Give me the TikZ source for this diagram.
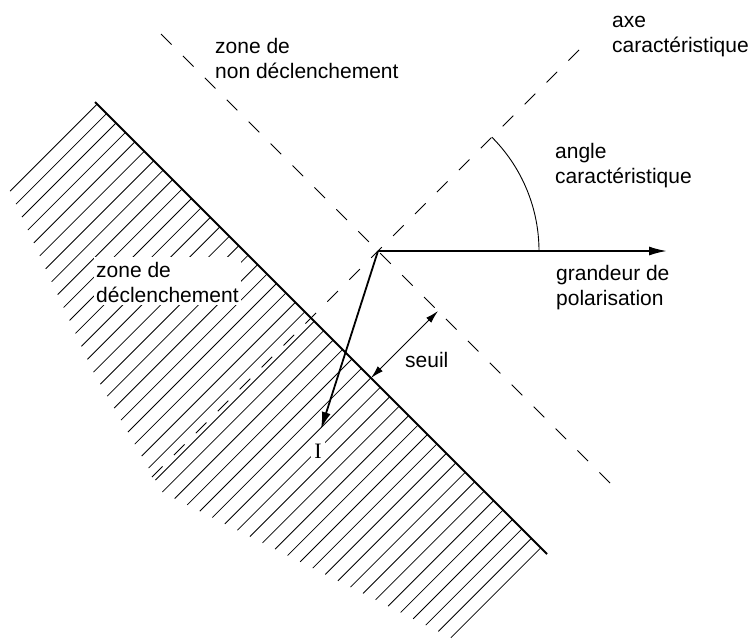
\documentclass[tikz,border=0pt]{standalone}
\usepackage{fontspec}
\setmainfont{Liberation Sans}
\newfontfamily\serifI{Liberation Serif}
\usetikzlibrary{arrows.meta}
\begin{document}
\begin{tikzpicture}[x=1pt,y=-1pt,
  txt/.style={font=\fontsize{21}{25.5}\selectfont, inner sep=0pt, anchor=north west, align=left},
  dashline/.style={line width=0.9pt, dash pattern=on 15pt off 16pt},
  hatch/.style={line width=0.8pt},
  bound/.style={line width=2.1pt},
  vec/.style={line width=1.8pt, -{Latex[length=18pt,width=9pt]}},
  thinline/.style={line width=0.9pt},
  seuilarrow/.style={line width=0.9pt, {Latex[length=13pt,width=7pt]}-{Latex[length=13pt,width=7pt]}}]
\useasboundingbox (0,0) rectangle (755,638);
% key points
\coordinate (O) at (378,251);
\coordinate (P) at (667,251);
\coordinate (Itip) at (321,429);
\coordinate (Btop) at (95,102);
\coordinate (Bbot) at (547,554);
\coordinate (Dp1) at (161,34);
\coordinate (Dp2) at (615,488);
\coordinate (Ax1) at (152,477);
\coordinate (Ax2) at (587,42);
\coordinate (S1) at (371,378);
\coordinate (S2) at (438,311);
\coordinate (A0) at (539,251);
% hatching
\foreach \k in {0,...,47}{
  \pgfmathsetmacro\t{3+13.35*\k}
  \pgfmathsetmacro\L{\t<188 ? 122+0.37*\t : (\t<324 ? 191.6+0.27*(\t-188) : 228.3-0.33*(\t-324))}
  \draw[hatch] ({95+\t/sqrt(2)},{102+\t/sqrt(2)}) -- ++({-\L/sqrt(2)},{\L/sqrt(2)});
}
% boundary of trip zone
\draw[bound] (Btop) -- (Bbot);
% dashed lines
\draw[dashline] (Dp1) -- (Dp2);
\draw[dashline] (Ax1) -- (Ax2);
% angle arc
\draw[thinline] (A0) arc[start angle=0,end angle=-45,radius=161];
% vectors
\draw[vec] (O) -- (P);
\draw[vec,-{Latex[length=17pt,width=9pt]}] (O) -- (Itip);
% threshold
\draw[seuilarrow] (S1) -- (S2);
% labels
\node[txt] (znd) at (215,35) {\strut zone de\\non déclenchement};
\node[txt] (axe) at (612,9) {\strut axe\\caractéristique};
\node[txt] (ang) at (555,140) {\strut angle\\caractéristique};
\node[txt] (pol) at (556,262) {\strut grandeur de\\polarisation};
\node[txt,fill=white,inner sep=2pt] (zd) at (94,257) {\strut zone de\\déclenchement};
\node[font=\fontsize{21}{25.5}\selectfont,inner sep=0pt,anchor=base west] (seuil) at (405,367) {seuil};
\node[font=\serifI\fontsize{22}{26}\selectfont,fill=white,inner sep=3pt,anchor=base] (I) at (318,458) {I};
\end{tikzpicture}
\end{document}
